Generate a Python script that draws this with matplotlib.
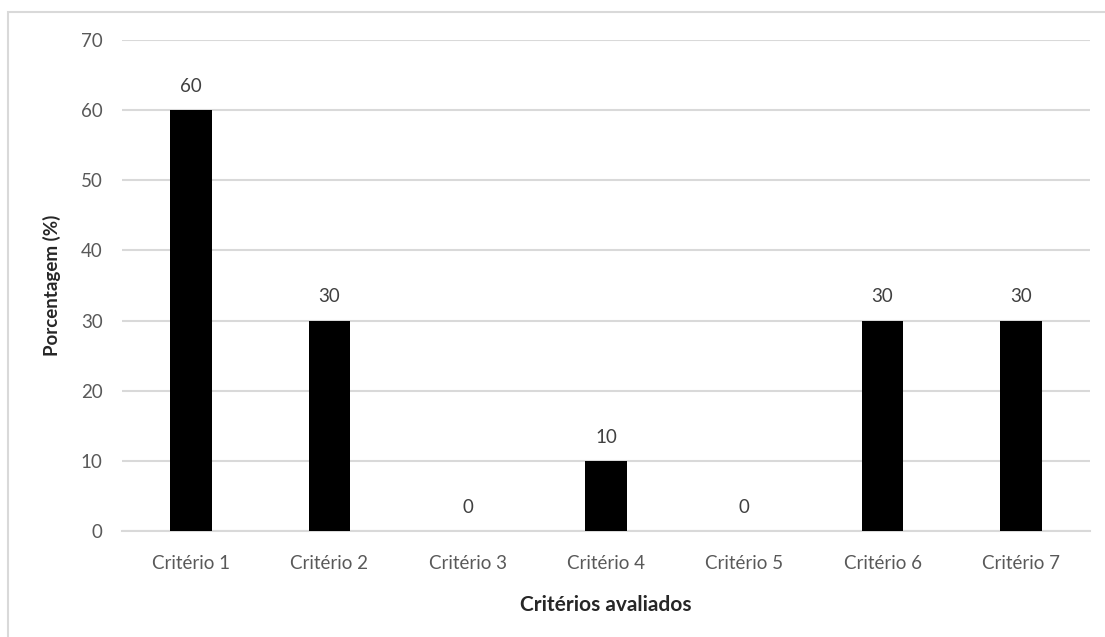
import matplotlib
matplotlib.use('Agg')
from matplotlib import pyplot as plt
from matplotlib.patches import Rectangle

plt.rcParams['font.family'] = ['Lato', 'DejaVu Sans']

criterios = ['Critério 1', 'Critério 2', 'Critério 3', 'Critério 4',
             'Critério 5', 'Critério 6', 'Critério 7']
porcentagem = [60, 30, 0, 10, 0, 30, 30]
yticks = [0, 10, 20, 30, 40, 50, 60, 70]

fig = plt.figure(figsize=(11.05, 6.37), dpi=100)
ax = fig.add_axes([0.1104, 0.1664, 0.876, 0.7708])

# light frame around the chart area
fig.patches.append(Rectangle((8 / 1105, -0.1), 1.2, 1 - 12 / 637 + 0.1,
                             transform=fig.transFigure, fill=False,
                             edgecolor='#d9d9d9', linewidth=1.5))

x = range(len(criterios))
ax.bar(x, porcentagem, width=0.30, color='black', zorder=3)

for xi, v in zip(x, porcentagem):
    ax.annotate(str(v), (xi, v), xytext=(0, 11), textcoords='offset points',
                ha='center', va='bottom', fontsize=13.5, color='#404040')

ax.set_xlim(-0.5, len(criterios) - 0.5)
ax.set_ylim(0, 70)
ax.set_yticks(yticks)
ax.set_xticks(list(x))
ax.set_xticklabels(criterios)
ax.yaxis.grid(True, color='#d9d9d9', linewidth=1.5, zorder=0)
ax.set_axisbelow(True)
for s in ['top', 'right', 'left']:
    ax.spines[s].set_visible(False)
ax.spines['bottom'].set_color('#d9d9d9')
ax.spines['bottom'].set_linewidth(1.5)
ax.tick_params(axis='both', length=0, labelsize=13.5, colors='#595959')
ax.tick_params(axis='y', pad=14)
ax.tick_params(axis='x', pad=17)

ax.set_xlabel('Critérios avaliados', fontsize=15, fontweight='bold',
              color='#262626', labelpad=17)
ax.set_ylabel('Porcentagem (%)', fontsize=13.5, fontweight='bold',
              color='#262626', labelpad=14)

plt.savefig('out.png', dpi=100)
